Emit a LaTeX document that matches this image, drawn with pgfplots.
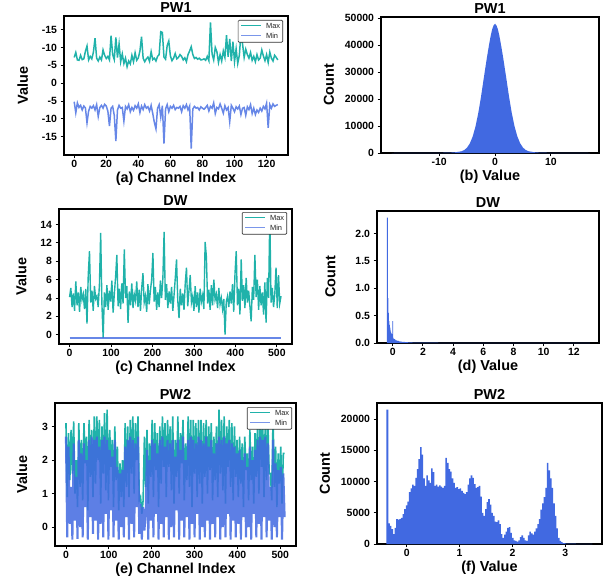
\documentclass[border=0pt]{standalone}
\usepackage{fontspec}
\setmainfont{Liberation Sans}
\usepackage{pgfplots}
\pgfplotsset{compat=1.18}
\definecolor{tealc}{HTML}{20B2AA}
\definecolor{royal}{HTML}{4169E1}
\definecolor{royall}{HTML}{7A96EA}
\newcommand{\lgline}[1]{\tikz[baseline=-2.7pt]\draw[#1, line width=1.5pt] (0pt,0pt) -- (20pt,0pt);}
\newcommand{\mylegend}{\renewcommand{\arraystretch}{1.15}\begin{tabular}{@{}l@{\hspace{4pt}}l@{}}\lgline{tealc} & Max\\ \lgline{royall} & Min\end{tabular}}
\tikzset{lgbox/.style={anchor=north east, draw=black!80, line width=0.7pt, rounded corners=1pt, fill=white, inner xsep=2.5pt, inner ysep=1.2pt, font=\fontsize{7.5}{8.5}\selectfont, text=black!85}}
\pgfplotsset{
  panel/.style={
    scale only axis,
    axis line style={line width=1.3pt, black},
    tick style={black, line width=0.9pt},
    tick align=outside,
    major tick length=3.5pt,
    xtick pos=bottom, ytick pos=left,
    tick label style={font=\fontsize{10.5}{12}\selectfont\bfseries},
    xticklabel style={yshift=1.5bp},
    label style={font=\fontsize{14.5}{16}\selectfont\bfseries},
    xlabel style={yshift=3bp},
    title style={font=\fontsize{14.5}{16}\selectfont\bfseries},
    every axis title shift=0pt,
    scaled ticks=false,
  }
}
\begin{document}
\begin{tikzpicture}
\useasboundingbox (0,0) rectangle (607bp,-582bp);
% ---------------- (a) PW1 lines
\begin{axis}[panel, at={(64bp,-155bp)}, anchor=south west, width=224bp, height=139bp,
  xmin=-6.35, xmax=133.35, ymin=-20.1, ymax=18.8,
  xtick={0,20,40,60,80,100,120}, xticklabels={0,20,40,60,80,100,120},
  ytick={-15,-10,-5,0,5,10,15}, yticklabels={-15,-10,-5,0,-5,-10,-15},
  title={PW1}, xlabel={(a) Channel Index}, ylabel={Value}, ylabel shift=7bp]
\addplot[tealc, line width=1.5pt] coordinates {
(0,7.2)(1,8.6)(2,6.5)(3,6.4)(4,7.8)(5,6.6)(6,6.8)(7,8.9)(8,10.4)(9,6.5)(10,7.5)(11,6.8)(12,8.7)(13,12.6)(14,7.0)(15,6.2)(16,7.3)(17,6.5)(18,9.3)(19,7.8)
(20,6.9)(21,7.5)(22,6.5)(23,13.3)(24,8.0)(25,6.6)(26,12.8)(27,7.2)(28,11.0)(29,6.0)(30,8.2)(31,5.5)(32,7.0)(33,4.6)(34,6.2)(35,5.4)(36,7.8)(37,6.0)(38,8.5)(39,6.4)
(40,7.1)(41,9.0)(42,13.0)(43,7.0)(44,6.0)(45,6.8)(46,7.3)(47,6.1)(48,8.8)(49,6.6)(50,7.0)(51,6.2)(52,7.5)(53,8.0)(54,14.4)(55,14.2)(56,7.3)(57,6.7)(58,10.5)(59,11.8)
(60,7.6)(61,6.3)(62,7.0)(63,8.3)(64,6.8)(65,7.2)(66,8.0)(67,7.5)(68,6.5)(69,7.1)(70,6.0)(71,8.0)(72,9.0)(73,10.2)(74,8.0)(75,6.9)(76,7.2)(77,6.7)(78,7.0)(79,6.5)
(80,6.6)(81,6.8)(82,6.4)(83,7.5)(84,6.3)(85,17.0)(86,8.2)(87,6.5)(88,10.0)(89,8.8)(90,5.8)(91,8.0)(92,6.2)(93,9.0)(94,7.2)(95,13.4)(96,7.4)(97,12.4)(98,6.2)(99,11.6)
(100,6.0)(101,9.6)(102,5.5)(103,7.8)(104,13.9)(105,11.0)(106,7.2)(107,9.5)(108,8.0)(109,7.0)(110,8.6)(111,6.4)(112,7.5)(113,6.0)(114,8.0)(115,6.5)(116,7.0)(117,9.3)(118,7.6)(119,6.3)
(120,8.0)(121,5.8)(122,8.7)(123,7.0)(124,6.2)(125,7.8)(126,7.2)(127,6.5)};
\addplot[royal, opacity=0.8, line width=1.5pt] coordinates {
(0,-5.2)(1,-8.3)(2,-5.5)(3,-6.8)(4,-6.2)(5,-7.5)(6,-6.4)(7,-6.9)(8,-11.1)(9,-7.8)(10,-6.5)(11,-7.0)(12,-6.3)(13,-7.5)(14,-6.0)(15,-9.3)(16,-6.8)(17,-6.2)(18,-7.0)(19,-5.9)
(20,-6.4)(21,-7.8)(22,-12.0)(23,-7.0)(24,-6.5)(25,-9.0)(26,-16.2)(27,-7.5)(28,-6.2)(29,-7.0)(30,-6.8)(31,-10.6)(32,-6.5)(33,-7.2)(34,-6.0)(35,-8.0)(36,-6.8)(37,-7.6)(38,-6.3)(39,-7.0)
(40,-5.8)(41,-8.2)(42,-6.4)(43,-7.4)(44,-6.0)(45,-7.0)(46,-6.6)(47,-7.8)(48,-6.2)(49,-8.5)(50,-11.0)(51,-12.8)(52,-7.0)(53,-6.0)(54,-9.5)(55,-6.3)(56,-16.9)(57,-7.2)(58,-6.0)(59,-8.0)
(60,-6.5)(61,-7.0)(62,-6.2)(63,-7.4)(64,-6.8)(65,-7.0)(66,-6.5)(67,-8.0)(68,-6.3)(69,-7.0)(70,-6.0)(71,-7.5)(72,-6.4)(73,-18.3)(74,-7.2)(75,-6.5)(76,-7.0)(77,-6.8)(78,-7.5)(79,-6.6)
(80,-7.0)(81,-7.3)(82,-6.8)(83,-6.2)(84,-7.8)(85,-6.5)(86,-7.0)(87,-5.5)(88,-8.5)(89,-6.8)(90,-7.2)(91,-5.8)(92,-7.0)(93,-8.4)(94,-6.3)(95,-7.5)(96,-6.8)(97,-10.8)(98,-6.2)(99,-7.0)
(100,-8.0)(101,-6.6)(102,-7.2)(103,-6.4)(104,-8.8)(105,-7.0)(106,-6.8)(107,-9.0)(108,-6.6)(109,-7.4)(110,-6.0)(111,-8.5)(112,-7.0)(113,-8.8)(114,-7.5)(115,-8.2)(116,-7.0)(117,-7.8)(118,-6.5)(119,-7.2)
(120,-5.6)(121,-12.5)(122,-6.0)(123,-7.0)(124,-5.8)(125,-6.5)(126,-6.2)(127,-6.0)};
\node[lgbox] at (rel axis cs:1,1) [xshift=-5bp, yshift=-4bp] {\mylegend};
\end{axis}
% ---------------- (b) PW1 hist
\begin{axis}[panel, at={(381bp,-153bp)}, anchor=south west, width=218bp, height=136bp,
  xmin=-20.4, xmax=18.6, ymin=0, ymax=50500,
  xtick={-10,0,10}, xticklabels={-10,0,10},
  ytick={0,10000,20000,30000,40000,50000}, yticklabels={0,10000,20000,30000,40000,50000},
  title={PW1}, xlabel={(b) Value}, ylabel={Count}, ylabel shift=4bp]
\addplot[fill=royal, draw=none] coordinates {
(-18.5,0)(-13,15)(-10,60)(-8,150)(-7,300)(-6,650)(-5.5,1100)(-5,2000)(-4.5,3600)(-4,6100)(-3.5,9800)(-3,14800)(-2.5,21000)(-2,28000)(-1.75,31400)(-1.5,34800)(-1.25,38000)(-1,41000)(-0.75,43800)(-0.5,46000)(-0.25,47400)
(0,48000)(0.25,47400)(0.5,46000)(0.75,43800)(1,41000)(1.25,38000)(1.5,34800)(1.75,31400)(2,28000)(2.5,21000)(3,14800)(3.5,9800)(4,6100)(4.5,3600)(5,2000)(5.5,1100)(6,650)(7,300)(8,150)(10,60)(13,15)(17,0)} \closedcycle;
\end{axis}
% ---------------- (c) DW lines
\begin{axis}[panel, at={(59bp,-344bp)}, anchor=south west, width=233bp, height=135bp,
  xmin=-25.55, xmax=536.55, ymin=-1.02, ymax=13.7,
  xtick={0,100,200,300,400,500}, xticklabels={0,100,200,300,400,500},
  ytick={0,2,4,6,8,10,12}, yticklabels={0,2,4,6,8,12,14},
  title={DW}, xlabel={(c) Channel Index}, ylabel={Value}, ylabel shift=7bp]
\addplot[tealc, line width=1.4pt] coordinates {
(0,4.1)(3,5.1)(6,3.0)(9,4.5)(12,2.6)(15,5.8)(18,3.2)(21,4.6)(24,2.5)(27,5.2)(30,3.8)(33,4.4)(36,2.8)(39,5.0)(42,1.2)(45,6.5)(48,9.1)(51,3.5)(54,4.8)(57,2.6)
(60,5.3)(63,3.9)(66,4.2)(69,3.0)(72,5.5)(75,11.1)(78,3.3)(81,-0.36)(84,4.6)(87,3.0)(90,5.4)(93,2.7)(96,4.8)(99,3.6)(102,5.9)(105,2.4)(108,4.5)(111,6.3)(114,8.7)(117,3.1)
(120,5.0)(123,2.8)(126,5.6)(129,3.4)(132,9.3)(135,4.0)(138,5.3)(141,1.3)(144,4.7)(147,3.2)(150,5.6)(153,2.9)(156,4.4)(159,3.7)(162,5.8)(165,3.0)(168,4.9)(171,2.6)(174,5.1)(177,6.7)
(180,3.5)(183,4.2)(186,2.5)(189,5.5)(192,3.3)(195,4.8)(198,6.0)(201,8.9)(204,3.6)(207,5.2)(210,2.7)(213,4.6)(216,3.0)(219,5.9)(222,4.0)(225,6.1)(228,11.2)(231,3.8)(234,5.5)(237,2.9)
(240,4.7)(243,3.4)(246,5.2)(249,2.6)(252,4.3)(255,6.2)(258,8.2)(261,3.7)(264,1.8)(267,5.0)(270,3.2)(273,4.5)(276,2.7)(279,5.6)(282,7.3)(285,3.1)(288,4.8)(291,6.5)(294,3.5)(297,4.2)
(300,2.6)(303,5.3)(306,3.0)(309,4.6)(312,2.4)(315,5.0)(318,3.6)(321,4.3)(324,2.8)(327,10.1)(330,8.5)(333,3.4)(336,4.9)(339,2.7)(342,5.4)(345,3.2)(348,6.0)(351,3.8)(354,4.4)(357,2.9)
(360,5.1)(363,3.3)(366,4.0)(369,2.8)(372,3.9)(375,0.0)(378,3.6)(381,4.2)(384,3.0)(387,4.7)(390,3.4)(393,5.5)(396,2.5)(399,6.6)(402,9.1)(405,3.2)(408,5.0)(411,2.2)(414,8.2)(417,3.7)
(420,5.4)(423,2.9)(426,6.2)(429,3.5)(432,4.8)(435,3.1)(438,1.45)(441,5.2)(444,3.8)(447,8.7)(450,4.1)(453,6.0)(456,2.7)(459,5.3)(462,3.2)(465,4.6)(468,2.2)(471,5.7)(474,1.3)(477,6.2)
(480,4.0)(483,13.0)(486,3.5)(489,5.1)(492,3.0)(495,4.4)(498,7.3)(501,2.9)(504,6.5)(507,3.4)(510,4.2)};
\addplot[royal, opacity=0.8, line width=1.3pt] coordinates {(0,-0.36)(100,-0.36)(200,-0.36)(300,-0.36)(400,-0.36)(511,-0.36)};
\node[lgbox] at (rel axis cs:1,1) [xshift=-5bp, yshift=-3bp] {\mylegend};
\end{axis}
% ---------------- (d) DW hist
\begin{axis}[panel, at={(377bp,-343bp)}, anchor=south west, width=222bp, height=132bp,
  xmin=-1.04, xmax=13.66, ymin=0, ymax=2.41,
  xtick={0,2,4,6,8,10,12}, xticklabels={0,2,4,6,8,10,12},
  ytick={0,0.5,1,1.5,2}, yticklabels={0.0,0.5,1.0,1.5,2.0},
  title={DW}, xlabel={(d) Value}, ylabel={Count}, ylabel shift=13bp]
\addplot[const plot, fill=royal, draw=none] coordinates {
(-0.38,2.29)(-0.32,0.82)(-0.28,0.55)(-0.25,0.40)(-0.22,0.33)(-0.19,0.28)(-0.16,0.24)(-0.13,0.21)(-0.10,0.18)(-0.07,0.16)(-0.04,0.14)(-0.02,0.40)(0.02,0.10)(0.05,0.08)(0.1,0.07)(0.15,0.06)(0.2,0.05)(0.3,0.04)(0.4,0.032)(0.5,0.026)(0.6,0.021)(0.8,0.016)(1.0,0.012)(1.3,0.009)(1.6,0.007)(2.0,0.005)(3,0.004)(5,0.003)(8,0.002)(11,0.0015)(13,0.001)(13.05,0)} \closedcycle;
\node[anchor=south west, inner sep=0pt, font=\fontsize{10.5}{12}\selectfont\bfseries] at (rel axis cs:0,1) [yshift=2bp] {1e6};
\end{axis}
% ---------------- (e) PW2 lines
\begin{axis}[panel, at={(55bp,-546bp)}, anchor=south west, width=241bp, height=143bp,
  xmin=-25.55, xmax=536.55, ymin=-0.56, ymax=3.70,
  xtick={0,100,200,300,400,500}, xticklabels={0,100,200,300,400,500},
  ytick={0,1,2,3}, yticklabels={0,1,2,3},
  title={PW2}, xlabel={(e) Channel Index}, ylabel={Value}, ylabel shift=8bp]
\addplot[tealc, line width=1.6pt] coordinates {
(0,3.1)(3,0.9)(6,2.8)(9,1.4)(12,2.9)(15,1.6)(18,3.15)(21,1.0)(24,2.0)(27,0.6)(30,3.1)(33,1.2)(36,2.6)(39,0.8)(42,3.1)(45,1.9)(48,2.7)(51,0.5)(54,3.2)(57,1.5)
(60,2.9)(63,0.9)(66,3.3)(69,1.3)(72,3.3)(75,2.0)(78,3.2)(81,0.7)(84,3.0)(87,1.6)(90,3.4)(93,1.1)(96,3.5)(99,0.8)(102,2.9)(105,1.8)(108,2.6)(111,0.6)(114,3.0)(117,1.4)
(120,2.4)(123,0.5)(126,1.9)(129,0.9)(132,2.0)(135,0.6)(138,3.1)(141,1.2)(144,3.0)(147,0.9)(150,3.2)(153,1.6)(156,3.3)(159,1.0)(162,3.1)(165,2.0)(168,3.3)(171,0.8)(174,0.9)(177,0.4)
(180,0.8)(183,2.7)(186,1.2)(189,2.9)(192,0.7)(195,2.5)(198,1.5)(201,3.2)(204,0.9)(207,3.1)(210,1.7)(213,2.8)(216,0.6)(219,3.0)(222,1.3)(225,3.3)(228,1.8)(231,3.1)(234,0.9)(237,3.2)
(240,1.8)(243,3.0)(246,1.1)(249,3.3)(252,0.7)(255,2.6)(258,1.5)(261,3.3)(264,1.0)(267,2.8)(270,1.9)(273,3.2)(276,0.8)(279,2.5)(282,1.4)(285,3.3)(288,1.2)(291,3.2)(294,0.6)(297,3.2)
(300,1.6)(303,3.1)(306,0.9)(309,3.2)(312,1.3)(315,3.2)(318,0.7)(321,3.1)(324,1.5)(327,3.2)(330,1.0)(333,3.0)(336,1.7)(339,3.1)(342,0.8)(345,2.7)(348,1.4)(351,3.0)(354,0.9)(357,3.5)
(360,1.6)(363,3.2)(366,1.1)(369,3.3)(372,0.7)(375,3.0)(378,1.8)(381,3.2)(384,1.2)(387,3.1)(390,0.8)(393,3.0)(396,1.5)(399,2.6)(402,0.9)(405,2.7)(408,1.3)(411,2.5)(414,0.6)(417,2.7)
(420,1.7)(423,2.2)(426,0.8)(429,2.9)(432,1.4)(435,2.4)(438,0.7)(441,2.8)(444,1.5)(447,3.2)(450,1.0)(453,3.4)(456,1.8)(459,3.1)(462,0.9)(465,3.3)(468,1.4)(471,3.1)(474,1.6)(477,1.6)
(480,0.8)(483,3.3)(486,1.2)(489,2.4)(492,0.6)(495,2.2)(498,1.3)(501,2.4)(504,0.7)(507,2.2)(510,2.2)};
\addplot[royal, opacity=0.85, line width=2.1pt] coordinates {
(0,2.7)(3,-0.3)(6,2.4)(9,0.1)(12,1.2)(15,-0.37)(18,2.5)(21,0.2)(24,1.5)(27,-0.35)(30,2.6)(33,0.0)(36,2.2)(39,-0.3)(42,2.5)(45,0.6)(48,2.0)(51,-0.37)(54,2.6)(57,0.3)
(60,2.7)(63,-0.2)(66,2.6)(69,0.2)(72,2.7)(75,-0.37)(78,2.4)(81,0.1)(84,2.6)(87,-0.3)(90,2.7)(93,0.4)(96,2.6)(99,-0.37)(102,2.3)(105,0.5)(108,2.1)(111,-0.3)(114,2.6)(117,0.2)
(120,1.8)(123,-0.37)(126,1.6)(129,0.0)(132,1.7)(135,-0.3)(138,2.4)(141,0.3)(144,2.6)(147,-0.37)(150,2.7)(153,0.1)(156,2.6)(159,-0.3)(162,2.5)(165,0.6)(168,2.7)(171,-0.2)(174,0.7)(177,-0.37)
(180,0.6)(183,-0.1)(186,0.4)(189,2.3)(192,-0.37)(195,2.0)(198,0.2)(201,2.6)(204,-0.3)(207,2.5)(210,0.4)(213,2.2)(216,-0.37)(219,2.6)(222,0.1)(225,2.7)(228,-0.3)(231,2.4)(234,0.3)(237,2.6)
(240,-0.37)(243,2.5)(246,0.0)(249,2.6)(252,-0.3)(255,2.1)(258,0.5)(261,2.6)(264,-0.37)(267,2.3)(270,0.2)(273,2.7)(276,-0.3)(279,2.0)(282,0.3)(285,2.6)(288,-0.37)(291,2.7)(294,0.1)(297,2.6)
(300,-0.3)(303,2.5)(306,0.4)(309,2.7)(312,-0.37)(315,2.6)(318,0.0)(321,2.5)(324,-0.3)(327,2.7)(330,0.2)(333,2.4)(336,-0.37)(339,2.6)(342,0.1)(345,2.2)(348,-0.3)(351,2.5)(354,0.3)(357,2.7)
(360,-0.37)(363,2.6)(366,0.0)(369,2.7)(372,-0.3)(375,2.5)(378,0.4)(381,2.6)(384,-0.37)(387,2.5)(390,0.2)(393,2.4)(396,-0.3)(399,2.2)(402,0.1)(405,2.3)(408,-0.37)(411,2.0)(414,0.3)(417,2.2)
(420,-0.3)(423,1.8)(426,0.0)(429,2.4)(432,-0.37)(435,2.0)(438,0.4)(441,2.3)(444,-0.3)(447,2.6)(450,0.1)(453,2.7)(456,-0.37)(459,2.6)(462,0.3)(465,2.7)(468,-0.3)(471,2.5)(474,0.2)(477,1.2)
(480,-0.37)(483,2.6)(486,0.0)(489,1.9)(492,-0.3)(495,1.7)(498,0.3)(501,1.8)(504,-0.37)(507,1.6)(510,0.3)};
\node[lgbox] at (rel axis cs:1,1) [xshift=-4bp, yshift=-4bp] {\mylegend};
\end{axis}
% ---------------- (f) PW2 hist
\begin{axis}[panel, at={(377bp,-544bp)}, anchor=south west, width=225bp, height=141bp,
  xmin=-0.564, xmax=3.694, ymin=0, ymax=22575,
  xtick={0,1,2,3}, xticklabels={0,1,2,3},
  ytick={0,5000,10000,15000,20000}, yticklabels={0,5000,10000,15000,20000},
  title={PW2}, xlabel={(f) Value}, ylabel={Count}, ylabel shift=4bp]
\addplot[const plot, fill=royal, draw=none] coordinates {
(-0.385,21500)(-0.35,3300)(-0.32,2900)(-0.29,2400)(-0.26,1600)(-0.23,2600)(-0.20,4000)(-0.17,3900)(-0.14,4000)(-0.11,4200)(-0.08,4800)(-0.05,5600)(-0.02,6200)(0.01,6800)(0.04,8300)(0.07,8900)(0.10,9500)(0.13,9300)(0.16,10600)(0.19,12000)(0.22,13600)(0.25,15500)(0.28,14300)(0.31,10500)(0.34,9300)(0.37,11000)(0.40,10200)(0.43,9800)(0.46,12100)(0.49,11500)(0.52,9300)(0.55,9500)(0.58,9200)(0.61,9400)(0.64,9200)(0.67,9000)(0.70,9300)(0.73,13800)(0.76,13000)(0.79,12000)(0.82,11600)(0.85,10500)(0.88,9800)(0.91,9000)(0.94,9100)(0.97,8800)(1.00,8900)(1.03,8500)(1.06,8200)(1.09,8000)(1.12,8300)(1.15,9500)(1.18,10500)(1.21,11000)(1.24,10600)(1.27,9600)(1.30,9000)(1.33,9100)(1.36,9300)(1.39,7600)(1.42,5000)(1.45,4500)(1.48,5600)(1.51,6700)(1.54,7200)(1.57,6300)(1.60,5000)(1.63,4500)(1.66,3600)(1.69,3500)(1.72,3800)(1.75,3200)(1.78,1600)(1.81,1000)(1.84,1500)(1.87,2000)(1.90,2600)(1.93,2700)(1.96,1800)(1.99,1000)(2.02,600)(2.05,500)(2.08,400)(2.11,600)(2.14,1100)(2.17,1400)(2.20,1000)(2.23,600)(2.26,500)(2.29,1400)(2.32,2000)(2.35,1700)(2.38,1500)(2.41,2000)(2.44,2500)(2.47,3200)(2.50,4000)(2.53,5500)(2.56,6500)(2.59,7500)(2.62,9000)(2.65,13000)(2.68,11800)(2.71,10500)(2.74,9000)(2.77,6500)(2.80,4500)(2.83,2500)(2.86,1000)(2.89,500)(2.92,300)(2.95,150)(3.0,60)(3.2,40)(3.45,20)(3.51,0)} \closedcycle;
\end{axis}
\end{tikzpicture}
\end{document}
